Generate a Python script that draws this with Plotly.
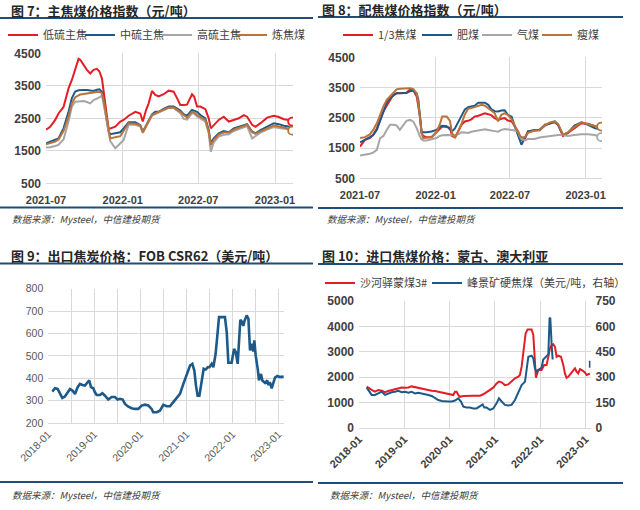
import pandas as pd
import plotly.graph_objects as go

# ---------------- DATA ----------------
# Panel 1 (图7) : days since 2021-07-01
p1_days = [0,10,22,30,42,54,62,70,78,82,90,98,106,114,122,128,134,139,146,150,154,166,178,186,198,214,226,232,240,246,
           254,262,270,282,294,306,314,322,330,338,350,355,362,370,382,390,395,402,414,426,438,450,462,474,482,494,502,514,530,546,
           558,570,582,590]
p1_low = [2150,2240,2450,2650,2850,3420,3680,3990,4330,4300,4140,3990,3880,3990,4020,3940,3730,3270,2700,2190,
          2190,2240,2400,2450,2580,2700,2650,2400,2760,2960,3340,3220,3170,3240,3350,3320,3120,2910,2910,2920,
          3240,3170,2860,2860,2780,2500,2190,2290,2450,2550,2400,2450,2500,2600,2550,2300,2240,2350,2520,2580,
          2540,2470,2450,2400]
p1_mid = [1730,1780,1840,1880,2190,2700,3120,3320,3360,3370,3370,3370,3350,3340,3380,3390,3320,3000,2400,2100,
          2010,2040,2070,2190,2380,2380,2290,2090,2290,2450,2620,2700,2700,2790,2860,2860,2800,2740,2630,2580,
          2760,2730,2700,2600,2500,2140,1730,1880,2040,2110,2070,2190,2230,2280,2320,2090,2040,2140,2240,2350,
          2320,2270,2250,2240]
p1_high = [1600,1610,1650,1680,1850,2400,2860,3010,3020,3030,3030,3000,2960,3060,3100,3140,3200,2900,2400,2090,
           1800,1580,1730,1830,2300,2300,2250,2050,2250,2380,2580,2630,2680,2740,2820,2820,2750,2660,2480,2460,
           2660,2640,2560,2500,2400,2040,1470,1760,1940,1990,2010,2110,2170,2220,2260,1880,1950,2060,2150,2230,
           2200,2180,2170,2150]
p1_coking = [1700,1740,1780,1850,2110,2550,2960,3150,3220,3230,3250,3270,3280,3290,3310,3320,3270,3000,2500,2100,
             1880,1920,1950,2110,2350,2330,2280,2070,2250,2400,2600,2650,2700,2780,2830,2830,2760,2700,2600,2520,
             2700,2680,2600,2540,2450,2090,1680,1840,2000,2060,2060,2150,2200,2250,2300,2070,2030,2100,2190,2280,
             2250,2220,2180,2120]

# Panel 2 (图8) : days since 2021-07-01
p2_days = [0,12,24,32,41,49,57,65,73,81,89,97,105,113,122,130,138,142,146,150,154,162,174,186,194,200,211,219,224,231,
           239,247,255,263,271,279,288,296,304,312,320,328,336,344,352,360,369,377,385,389,393,401,409,425,437,450,462,474,482,494,
           506,522,539,555,571,587]
p2_third = [1550,1770,1830,1940,2150,2450,2710,2900,3100,3260,3310,3310,3310,3330,3440,3400,3200,2900,2540,1990,
            1900,1860,1860,2020,2130,2210,2200,2170,1900,1860,2050,2270,2380,2400,2450,2540,2570,2620,2650,2620,
            2580,2490,2430,2470,2490,2410,2380,2210,2050,1900,1770,1800,2050,2080,2100,2270,2320,2350,2270,1900,
            2000,2150,2320,2300,2230,2160]
p2_fat = [1690,1770,1850,1920,2100,2400,2650,3000,3150,3230,3310,3310,3310,3320,3380,3400,3300,3100,2540,2020,
          2020,2020,2050,2100,2200,2240,2220,2100,2050,2150,2350,2550,2770,2850,2880,2900,3000,3000,3000,2930,
          2780,2720,2710,2740,2750,2600,2540,2210,1940,1770,1610,1830,2050,2100,2100,2240,2300,2380,2270,1940,
          2000,2240,2350,2270,2160,2100]
p2_gas = [1250,1270,1310,1350,1440,1830,1900,2100,2270,2270,2250,2100,2250,2400,2430,2370,2160,2000,1880,1780,
          1750,1750,1780,1830,1900,1920,1930,1930,1930,1920,1950,2020,2010,2000,2040,2060,2080,2100,2120,2100,
          2090,2060,2040,2100,2130,2120,2110,2080,2040,1880,1800,1750,1800,1800,1850,1880,1900,1930,1930,1930,
          1900,1930,1960,1960,1930,1860]
p2_lean = [1830,1860,1950,2100,2320,2600,2880,3090,3200,3310,3440,3460,3470,3480,3480,3450,3310,3000,2400,1990,
           1830,1840,1860,2020,2270,2540,2540,2400,2000,1830,2050,2300,2600,2800,2820,2860,2900,2930,2900,2820,
           2720,2650,2380,2600,2650,2600,2450,2250,2000,1900,1860,1860,2000,2080,2080,2250,2350,2380,2300,1940,
           2020,2200,2350,2300,2230,2210]

# Panel 3 (图9) : days since 2018-01-01
p3_days = [32,53,74,93,111,132,153,172,191,212,233,251,270,291,312,325,339,357,370,384,
           410,429,450,476,503,529,550,569,590,609,635,662,688,714,741,767,794,820,833,860,
           886,913,939,966,992,1019,1045,1072,1098,1125,1143,1159,1172,1185,1199,1217,1233,1249,1265,1278,
           1297,1310,1328,1344,1355,1402,1416,1429,1455,1474,1487,1503,1524,1535,1548,1556,1574,1588,1601,1614,
           1627,1635,1646,1662,1672,1688,1699,1720,1738,1746,1759,1773,1786,1799,1818,1834,1852,1868]
p3_fob = [340,355,352,330,312,318,334,352,345,330,360,375,370,367,382,390,360,355,337,325,
          325,333,322,305,316,316,305,308,305,285,273,266,263,263,278,282,278,263,248,248,
          255,281,275,275,293,312,330,375,412,457,464,434,367,322,322,382,442,439,449,449,
          464,449,509,606,673,673,606,469,469,531,519,464,661,654,634,654,681,666,524,554,
          519,569,501,442,390,419,390,379,390,370,382,355,382,403,410,406,406,408]

# Panel 4 (图10) : days since 2018-01-01
p4_mn_days = [62,81,102,129,156,183,210,236,263,290,317,344,371,398,424,451,478,505,532,559,
              586,612,639,666,693,720,747,760,774,787,800,814,841,868,894,921,948,975,1002,1029,
              1056,1082,1109,1128,1150,1176,1203,1230,1257,1284,1297,1311,1327,1343,1359,1391,1405,1418,1426,1445,
              1472,1493,1512,1526,1539,1553,1566,1579,1593,1606,1628,1647,1660,1673,1687,1708,1727,1741,1754,1767,
              1781,1794,1821,1835,1848,1861]
p4_mongolia = [1620,1550,1490,1420,1490,1460,1400,1450,1490,1510,1550,1590,1580,1590,1630,1600,1550,1530,1510,1490,
               1460,1450,1420,1400,1380,1340,1320,1290,1420,1420,1290,1220,1250,1260,1250,1260,1260,1260,1320,1420,
               1490,1580,1750,1820,1790,1680,1710,1840,1950,2010,2080,2410,3130,3720,3880,3880,3660,2610,1970,2280,
               2280,2470,2470,2800,3130,3260,3290,3200,2800,2840,2800,2470,2140,1970,2010,2140,2280,2340,2210,2140,
               2310,2280,2180,2080,2110,2130]
p4_au_days = [62,81,102,129,156,183,210,236,263,290,317,344,371,398,424,451,478,505,532,559,
              586,612,639,666,693,720,747,774,800,822,841,868,894,921,948,983,997,1010,1029,1056,
              1082,1109,1128,1150,1176,1203,1230,1257,1284,1311,1338,1365,1391,1405,1418,1432,1445,1472,1485,1504,
              1526,1536,1542,1553,1561,1861]
p4_australia = [237,213,194,194,203,213,194,203,210,213,218,210,213,207,213,203,207,203,200,194,
                188,174,164,158,155,155,155,161,174,155,125,119,119,114,114,135,138,119,119,105,
                114,144,174,155,135,131,135,164,213,252,273,420,426,411,351,332,342,356,404,420,
                434,648,651,489,404,375]

# ---------------- STYLE ----------------
W, H = 640, 510
RED, BLUE, GRAY, ORANGE = "#e31e26", "#1d5a8a", "#a6a6a6", "#b8743a"
RULE = "#1f4e79"
GRID = "#d9d9d9"
TXT = "#404040"
CJK = "Noto Sans CJK SC"

def fx(x):
    return x / W

def fy(y):
    return 1 - y / H

def dates(start, days):
    return pd.Timestamp(start) + pd.to_timedelta(days, unit="D")

d1 = dates("2021-07-01", p1_days)
d2 = dates("2021-07-01", p2_days)
d3 = dates("2018-01-01", p3_days)
d4m = dates("2018-01-01", p4_mn_days)
d4a = dates("2018-01-01", p4_au_days)

fig = go.Figure()

def line(x, y, name, color, xa, ya, legend, width=2, show=True):
    fig.add_trace(go.Scatter(x=x, y=y, name=name, mode="lines", line=dict(color=color, width=width),
                             xaxis=xa, yaxis=ya, legend=legend, showlegend=show))

def endmark(x, y, color, xa, ya):
    fig.add_trace(go.Scatter(x=[x[-1]], y=[y[-1]], mode="markers", showlegend=False,
                             marker=dict(size=8, color="white", line=dict(color=color, width=1.8)),
                             xaxis=xa, yaxis=ya))

# panel 1
line(d1, p1_low, "低硫主焦", RED, "x", "y", "legend")
line(d1, p1_mid, "中硫主焦", BLUE, "x", "y", "legend2")
line(d1, p1_high, "高硫主焦", GRAY, "x", "y", "legend3")
line(d1, p1_coking, "炼焦煤", ORANGE, "x", "y", "legend4")
endmark(d1, p1_low, RED, "x", "y")
endmark(d1, p1_coking, ORANGE, "x", "y")

# panel 2
line(d2, p2_third, "1/3焦煤", RED, "x2", "y2", "legend5")
line(d2, p2_fat, "肥煤", BLUE, "x2", "y2", "legend6")
line(d2, p2_gas, "气煤", GRAY, "x2", "y2", "legend7")
line(d2, p2_lean, "瘦煤", ORANGE, "x2", "y2", "legend8")
endmark(d2, p2_gas, GRAY, "x2", "y2")
endmark(d2, p2_lean, ORANGE, "x2", "y2")

# panel 3
line(d3, p3_fob, "FOB CSR62", BLUE, "x3", "y3", "legend", width=2.6, show=False)

# panel 4
line(d4m, p4_mongolia, "沙河驿蒙煤3#", RED, "x4", "y4", "legend9")
line(d4a[:-1], p4_australia[:-1], "峰景矿硬焦煤（美元/吨，右轴）", BLUE, "x4", "y5", "legend10")
fig.add_trace(go.Scatter(x=d4a[-1:], y=p4_australia[-1:], mode="markers", showlegend=False,
                         marker=dict(size=5, color=BLUE, symbol="line-ns", line=dict(color=BLUE, width=2)),
                         xaxis="x4", yaxis="y5"))

tickfont_b = dict(family="Liberation Sans", size=11, color=TXT, weight="bold")
tickfont_yb = dict(family="Liberation Sans", size=12, color=TXT, weight="bold")
tickfont_r = dict(family="Liberation Sans", size=10.5, color="#595959")

def xax(dom, rng, dtick, font, anchor, angle=0, minor=None, standoff=0):
    d = dict(domain=[fx(dom[0]), fx(dom[1])], type="date", range=rng, tick0=rng[0], dtick=dtick,
             tickformat="%Y-%m", showgrid=True, gridcolor=GRID, gridwidth=1, zeroline=False,
             showline=True, linecolor=GRID, linewidth=1, ticks="", tickfont=font, tickangle=angle,
             anchor=anchor, automargin=False, fixedrange=True, ticklabelstandoff=standoff)
    if minor:
        d["minor"] = minor
    return d

def yax(dom, rng, dtick, font, anchor):
    return dict(domain=[fy(dom[1]), fy(dom[0])], range=rng, dtick=dtick, tick0=rng[0], showgrid=True,
                gridcolor=GRID, gridwidth=1, zeroline=False, showline=False, ticks="", tickfont=font,
                anchor=anchor, ticklabelstandoff=4, automargin=False, fixedrange=True)

fig.update_layout(
    width=W, height=H, margin=dict(l=0, r=0, t=0, b=0, pad=0, autoexpand=False),
    paper_bgcolor="white", plot_bgcolor="white",
    xaxis=xax((46, 293), [dates("2021-07-01", 0), dates("2021-07-01", 592)], "M6", tickfont_b, "y", standoff=6),
    yaxis=yax((53.3, 183.3), [500, 4500], 1000, tickfont_yb, "x"),
    xaxis2=xax((360, 602), [dates("2021-07-01", 0), dates("2021-07-01", 589)], "M6", tickfont_b, "y2", standoff=6),
    yaxis2=yax((57.3, 178.3), [500, 4500], 1000, tickfont_yb, "x2"),
    xaxis3=xax((48.3, 284.3), [dates("2018-01-01", 0), dates("2018-01-01", 1873)], "M12", tickfont_r, "y3", -45,
               minor=dict(dtick="M6", showgrid=True, gridcolor=GRID, ticks="")),
    yaxis3=yax((288.7, 423), [200, 800], 100, tickfont_r, "x3"),
    xaxis4=xax((359, 590.5), [dates("2018-01-01", 0), dates("2018-01-01", 1866)], "M12", tickfont_b, "y4", -45),
    yaxis4=yax((301, 427.7), [0, 5000], 1000, tickfont_yb, "x4"),
    yaxis5=dict(overlaying="y4", side="right", anchor="x4", range=[0, 750], dtick=150, showgrid=False,
                zeroline=False, showline=False, ticks="", tickfont=tickfont_yb, ticklabelstandoff=4,
                automargin=False, fixedrange=True),
    showlegend=True,
)

# legends: one entry each, placed where the reference puts them
leg_pos = {
    "legend": (3, 35), "legend2": (80, 35), "legend3": (157, 35), "legend4": (232, 35),
    "legend5": (338, 35), "legend6": (417, 35), "legend7": (477, 35), "legend8": (537, 35),
    "legend9": (320, 283), "legend10": (427, 283),
}
for k, (lx, ly) in leg_pos.items():
    fig.update_layout({k: dict(x=fx(lx), y=fy(ly), xanchor="left", yanchor="middle", orientation="h",
                               bgcolor="rgba(0,0,0,0)", borderwidth=0, itemwidth=30,
                               font=dict(family=CJK, size=11, color=TXT), tracegroupgap=0)})

# titles
titles = [
    ("图 7：主焦煤价格指数（元/吨）", 9, 10),
    ("图 8：配焦煤价格指数（元/吨）", 320, 9),
    ("图 9：出口焦炭价格：FOB CSR62（美元/吨）", 9, 255),
    ("图 10：进口焦煤价格：蒙古、澳大利亚", 320, 255),
]
for t, tx, ty in titles:
    fig.add_annotation(text=t, x=fx(tx), y=fy(ty), xref="paper", yref="paper", xanchor="left", yanchor="middle",
                       showarrow=False, font=dict(family=CJK, size=13, color="#262626", weight="bold"))

sources = [(10, 219), (325, 219), (10, 495), (328, 495)]
for sx, sy in sources:
    fig.add_annotation(text="数据来源：Mysteel，中信建投期货", x=fx(sx), y=fy(sy), xref="paper", yref="paper",
                       xanchor="left", yanchor="middle", showarrow=False,
                       font=dict(family=CJK, size=9.5, color=TXT, style="italic"))

rules = [(0, 313, 18), (318, 623, 17), (0, 313, 207.5), (318, 623, 208),
         (0, 313, 263.5), (318, 623, 264), (0, 313, 482), (318, 623, 483)]
for x0, x1, yy in rules:
    fig.add_shape(type="line", xref="paper", yref="paper", x0=fx(x0), x1=fx(x1), y0=fy(yy), y1=fy(yy),
                  line=dict(color=RULE, width=2.2))

fig.write_html("out.html", config={"displayModeBar": False},
               post_script="document.body.style.margin='0px';")
